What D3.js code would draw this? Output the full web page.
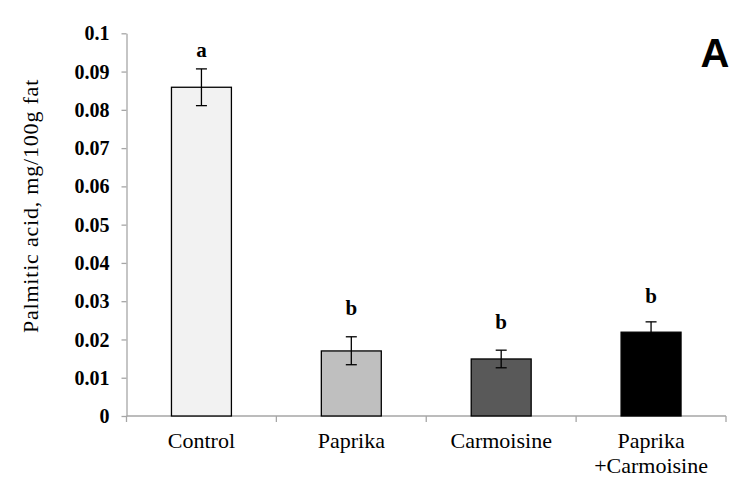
<!DOCTYPE html>
<html>
<head>
<meta charset="utf-8">
<script src="https://cdn.jsdelivr.net/npm/d3@7"></script>
<style>
  html, body { margin: 0; padding: 0; background: #fff; }
  svg { display: block; }
</style>
</head>
<body>
<svg id="chart" width="750" height="495"></svg>
<script>
// ---- data ----
const categories = ["Control", "Paprika", "Carmoisine", "Paprika\n+Carmoisine"];
const values     = [0.0859, 0.0170, 0.0149, 0.0219];
const errLow     = [0.0811, 0.0134, 0.0126, 0.0192];
const errHigh    = [0.0907, 0.0207, 0.0172, 0.0246];
const letters    = ["a", "b", "b", "b"];
const letterY    = [0.0939, 0.0264, 0.0227, 0.0296];
const barColors  = ["#f2f2f2", "#bfbfbf", "#595959", "#000000"];
const yTicks     = [0, 0.01, 0.02, 0.03, 0.04, 0.05, 0.06, 0.07, 0.08, 0.09, 0.1];
const yTitle     = "Palmitic acid, mg/100g fat";
const panel      = "A";

// ---- layout ----
const svg = d3.select("#chart");
const mLeft = 126.5, mRight = 726, mTop = 33.3, mBottom = 416;
const serif = "'Liberation Serif', 'Times New Roman', serif";

const x = d3.scaleBand().domain(categories).range([mLeft, mRight]).paddingInner(0).paddingOuter(0);
const y = d3.scaleLinear().domain([0, 0.1]).range([mBottom, mTop]);
const barW = x.bandwidth() * 0.4;
const axisColor = "#a6a6a6";

// y axis
const yAxis = svg.append("g")
  .attr("transform", `translate(${mLeft},0)`)
  .call(d3.axisLeft(y).tickValues(yTicks).tickFormat(d => String(+d.toFixed(2))).tickSize(5).tickSizeOuter(0));
yAxis.select(".domain").attr("stroke", axisColor).attr("stroke-width", 1.3);
yAxis.selectAll(".tick line").attr("stroke", axisColor).attr("stroke-width", 1.3);
yAxis.selectAll(".tick text")
  .attr("x", -17)
  .attr("dy", "0.33em")
  .attr("fill", "#000")
  .style("font-family", serif)
  .style("font-weight", "bold")
  .style("font-size", "20px");

// x axis
const xAxisG = svg.append("g").attr("transform", `translate(0,${mBottom})`);
xAxisG.append("line")
  .attr("x1", mLeft).attr("x2", mRight).attr("y1", 0).attr("y2", 0)
  .attr("stroke", axisColor).attr("stroke-width", 1.3);
const boundaries = categories.map(c => x(c)).concat([x(categories[categories.length - 1]) + x.bandwidth()]);
xAxisG.selectAll(".xtick").data(boundaries).enter().append("line")
  .attr("x1", d => d).attr("x2", d => d).attr("y1", 0).attr("y2", 6)
  .attr("stroke", axisColor).attr("stroke-width", 1.3);

// category labels
categories.forEach(c => {
  const lines = c.split("\n");
  const t = svg.append("text")
    .attr("x", x(c) + x.bandwidth() / 2)
    .attr("y", 448)
    .attr("text-anchor", "middle")
    .style("font-family", serif)
    .style("font-size", "22px")
    .attr("fill", "#000");
  lines.forEach((ln, i) => {
    t.append("tspan").attr("x", x(c) + x.bandwidth() / 2).attr("dy", i === 0 ? 0 : 25).text(ln);
  });
});

// bars
svg.selectAll(".bar").data(categories).enter().append("rect")
  .attr("x", c => x(c) + (x.bandwidth() - barW) / 2)
  .attr("y", (c, i) => y(values[i]))
  .attr("width", barW)
  .attr("height", (c, i) => y(0) - y(values[i]))
  .attr("fill", (c, i) => barColors[i])
  .attr("stroke", "#000")
  .attr("stroke-width", 1.3);

// error bars
const capW = 11;
categories.forEach((c, i) => {
  const cx = x(c) + x.bandwidth() / 2;
  const g = svg.append("g").attr("stroke", "#000").attr("stroke-width", 1.3);
  g.append("line").attr("x1", cx).attr("x2", cx).attr("y1", y(errLow[i])).attr("y2", y(errHigh[i]));
  g.append("line").attr("x1", cx - capW / 2).attr("x2", cx + capW / 2).attr("y1", y(errHigh[i])).attr("y2", y(errHigh[i]));
  g.append("line").attr("x1", cx - capW / 2).attr("x2", cx + capW / 2).attr("y1", y(errLow[i])).attr("y2", y(errLow[i]));
});

// significance letters
svg.selectAll(".letter").data(categories).enter().append("text")
  .attr("x", c => x(c) + x.bandwidth() / 2)
  .attr("y", (c, i) => y(letterY[i]))
  .attr("text-anchor", "middle")
  .style("font-family", serif)
  .style("font-weight", "bold")
  .style("font-size", "21px")
  .attr("fill", "#000")
  .text((c, i) => letters[i]);

// y title
svg.append("text")
  .attr("transform", `translate(38,206) rotate(-90)`)
  .attr("text-anchor", "middle")
  .style("font-family", serif)
  .style("font-size", "22px")
  .style("letter-spacing", "0.8px")
  .attr("fill", "#000")
  .text(yTitle);

// panel letter
svg.append("text")
  .attr("x", 715).attr("y", 67)
  .attr("text-anchor", "middle")
  .style("font-family", "'Liberation Sans', Arial, sans-serif")
  .style("font-weight", "bold")
  .style("font-size", "40px")
  .attr("fill", "#000")
  .text(panel);
</script>
</body>
</html>
